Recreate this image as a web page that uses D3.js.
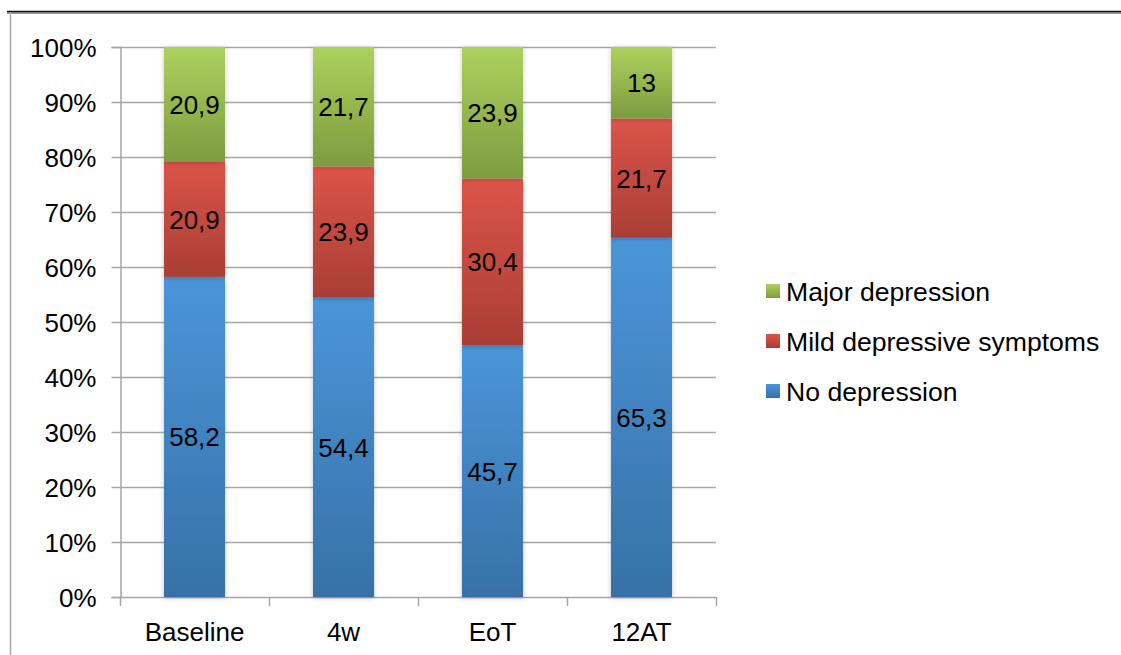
<!DOCTYPE html>
<html>
<head>
<meta charset="utf-8">
<script src="https://cdn.jsdelivr.net/npm/d3@7/dist/d3.min.js"></script>
<style>
  html, body { margin: 0; padding: 0; background: #fff; }
  svg { display: block; font-family: "Liberation Sans", Arial, sans-serif; }
</style>
</head>
<body>
<svg id="chart" width="1121" height="655"></svg>
<script>
// Share of patients by depression category at each time point (%)
const categories = ["Baseline", "4w", "EoT", "12AT"];
const noDepression = [58.2, 54.4, 45.7, 65.3];
const mildSymptoms = [20.9, 23.9, 30.4, 21.7];
const majorDepression = [20.9, 21.7, 23.9, 13];
const yTicks = [0, 10, 20, 30, 40, 50, 60, 70, 80, 90, 100];

const seriesNames = ["No depression", "Mild depressive symptoms", "Major depression"];
const seriesValues = [noDepression, mildSymptoms, majorDepression];
const gradients = [
  ["#4b95da", "#3771a7"],
  ["#dc544a", "#a93e35"],
  ["#add15d", "#7d9b40"]
];

const FONT = "Liberation Sans, Arial, sans-serif";
const FS = 26;

const svg = d3.select("#chart");
const defs = svg.append("defs");

gradients.forEach((g, i) => {
  const lg = defs.append("linearGradient")
    .attr("id", "grad" + i)
    .attr("x1", 0).attr("y1", 0).attr("x2", 0).attr("y2", 1);
  lg.append("stop").attr("offset", "0%").attr("stop-color", g[0]);
  lg.append("stop").attr("offset", "100%").attr("stop-color", g[1]);
});

const shadow = defs.append("filter").attr("id", "barShadow")
  .attr("x", "-20%").attr("y", "-5%").attr("width", "140%").attr("height", "110%");
shadow.append("feDropShadow")
  .attr("dx", 0).attr("dy", 1).attr("stdDeviation", 2.5)
  .attr("flood-color", "#000").attr("flood-opacity", 0.22);

// Outer frame
svg.append("line").attr("x1", 7).attr("x2", 1121).attr("y1", 13).attr("y2", 13)
  .attr("stroke", "#9a9a9a").attr("stroke-width", 2);
svg.append("line").attr("x1", 7).attr("x2", 1121).attr("y1", 11.5).attr("y2", 11.5)
  .attr("stroke", "#111").attr("stroke-width", 1.5);
svg.append("line").attr("x1", 10.5).attr("x2", 10.5).attr("y1", 12).attr("y2", 655)
  .attr("stroke", "#a8a8a8").attr("stroke-width", 1.5);

const plot = { left: 120, right: 716, top: 47, bottom: 597 };

const x = d3.scaleBand()
  .domain(categories)
  .range([plot.left, plot.right])
  .paddingInner(0.59)
  .paddingOuter(0.295);

const y = d3.scaleLinear().domain([0, 100]).range([plot.bottom, plot.top]);

// Gridlines
svg.append("g")
  .selectAll("line")
  .data(yTicks.filter(t => t > 0))
  .join("line")
  .attr("x1", plot.left).attr("x2", plot.right)
  .attr("y1", d => Math.round(y(d)) + 0.5).attr("y2", d => Math.round(y(d)) + 0.5)
  .attr("stroke", "#a6a6a6").attr("stroke-width", 1.5);

// Y axis
const yAxis = svg.append("g")
  .attr("transform", `translate(${plot.left + 0.5},0)`)
  .call(d3.axisLeft(y).tickValues(yTicks).tickFormat(d => d + "%").tickSize(9).tickPadding(15));
yAxis.attr("font-size", FS).attr("font-family", FONT);
yAxis.select(".domain").attr("stroke", "#a6a6a6").attr("stroke-width", 1.5);
yAxis.selectAll(".tick line").attr("stroke", "#a6a6a6").attr("stroke-width", 1.5);
yAxis.selectAll(".tick text").attr("fill", "#000").attr("dy", "0.38em");

// X axis with ticks at category boundaries
const xg = svg.append("g").attr("font-size", FS).attr("font-family", FONT);
xg.append("line")
  .attr("x1", plot.left).attr("x2", plot.right)
  .attr("y1", plot.bottom + 0.5).attr("y2", plot.bottom + 0.5)
  .attr("stroke", "#a6a6a6").attr("stroke-width", 1.5);
const boundaries = d3.range(categories.length + 1).map(i => plot.left + i * (plot.right - plot.left) / categories.length);
xg.selectAll("line.tk").data(boundaries).join("line").attr("class", "tk")
  .attr("x1", d => Math.round(d) + 0.5).attr("x2", d => Math.round(d) + 0.5)
  .attr("y1", plot.bottom).attr("y2", plot.bottom + 9)
  .attr("stroke", "#a6a6a6").attr("stroke-width", 1.5);
xg.selectAll("text").data(categories).join("text")
  .attr("x", d => x(d) + x.bandwidth() / 2)
  .attr("y", plot.bottom + 44)
  .attr("text-anchor", "middle")
  .attr("fill", "#000")
  .text(d => d);

// Stacked bars
const stackData = categories.map((c, i) => {
  const row = { category: c };
  seriesNames.forEach((s, k) => { row[s] = seriesValues[k][i]; });
  return row;
});
const stacked = d3.stack().keys(seriesNames)(stackData);

const barsG = svg.append("g").attr("font-size", FS).attr("font-family", FONT);
stacked.forEach((layer, k) => {
  barsG.append("g")
    .selectAll("rect")
    .data(layer)
    .join("rect")
    .attr("x", d => x(d.data.category))
    .attr("width", x.bandwidth())
    .attr("y", d => y(d[1]))
    .attr("height", d => y(d[0]) - y(d[1]))
    .attr("fill", `url(#grad${k})`)
    .attr("filter", "url(#barShadow)");
});

// Value labels
stacked.forEach((layer, k) => {
  barsG.append("g")
    .selectAll("text")
    .data(layer)
    .join("text")
    .attr("x", d => x(d.data.category) + x.bandwidth() / 2)
    .attr("y", d => (y(d[0]) + y(d[1])) / 2)
    .attr("dy", "0.36em")
    .attr("text-anchor", "middle")
    .attr("fill", "#000")
    .text(d => String(d.data[seriesNames[k]]).replace(".", ","));
});

// Legend (top entry is the top of the stack)
const legendOrder = [2, 1, 0];
const legend = svg.append("g").attr("transform", "translate(766,291)")
  .attr("font-size", 26.6).attr("font-family", FONT);
legendOrder.forEach((k, i) => {
  const row = legend.append("g").attr("transform", `translate(0,${i * 50})`);
  row.append("rect").attr("x", 0).attr("y", -7).attr("width", 14).attr("height", 14)
    .attr("fill", `url(#grad${k})`);
  row.append("text").attr("x", 20).attr("y", 0).attr("dy", "0.36em")
    .attr("fill", "#000").text(seriesNames[k]);
});
</script>
</body>
</html>
